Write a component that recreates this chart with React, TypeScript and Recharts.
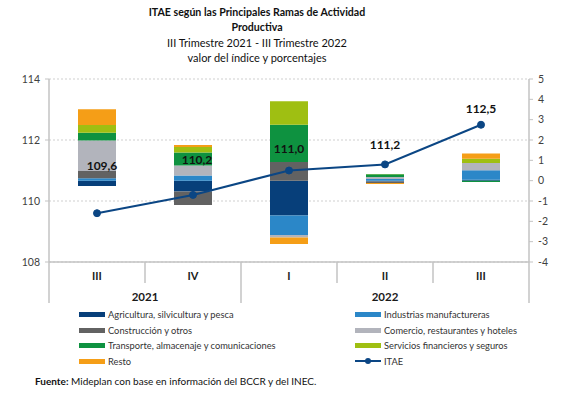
import React from "react";
import {
  Bar,
  CartesianGrid,
  ComposedChart,
  Line,
  XAxis,
  YAxis,
} from "recharts";

const quarters = ["III", "IV", "I", "II", "III"];
const years = [
  { label: "2021", span: 2 },
  { label: "2022", span: 3 },
];

// aportes por rama (puntos porcentuales)
const agricultura = [-0.26, -0.53, -1.71, -0.04, 0.05];
const industrias = [0.12, 0.25, -0.96, 0.08, 0.46];
const construccion = [0.36, -0.67, 0.92, -0.08, 0];
const comercio = [1.49, 0.49, -0.12, 0.1, 0.36];
const transporte = [0.39, 0.65, 1.83, 0.13, -0.06];
const servicios = [0.38, 0.27, 1.15, 0.02, 0.21];
const resto = [0.77, 0.1, -0.32, -0.05, 0.25];

// valor del índice
const itae = [109.6, 110.2, 111.0, 111.2, 112.5];
const itaeLabelOffsets = [
  [5, -47],
  [4, -35],
  [0, -22],
  [0, -19],
  [0, -16],
];

const leftTicks = [108, 110, 112, 114];
const rightTicks = [-4, -3, -2, -1, 0, 1, 2, 3, 4, 5];

const series = [
  { key: "agricultura", name: "Agricultura, silvicultura y pesca", color: "#073f7a" },
  { key: "industrias", name: "Industrias manufactureras", color: "#2b87c8" },
  { key: "construccion", name: "Construcción y otros", color: "#626262" },
  { key: "comercio", name: "Comercio, restaurantes y hoteles", color: "#b2b4bc" },
  { key: "transporte", name: "Transporte, almacenaje y comunicaciones", color: "#0e9240" },
  { key: "servicios", name: "Servicios financieros y seguros", color: "#9fbf12" },
  { key: "resto", name: "Resto", color: "#f59e17" },
];
const lineColor = "#0b4684";

const data = quarters.map((q, i) => ({
  q,
  agricultura: agricultura[i],
  industrias: industrias[i],
  construccion: construccion[i],
  comercio: comercio[i],
  transporte: transporte[i],
  servicios: servicios[i],
  resto: resto[i],
  itae: itae[i],
}));

const FONT = "Lato, 'Open Sans', sans-serif";
const AXIS = "#c3c3c3";
const W = 586;
const H = 396;
const PLOT_LEFT = 49;
const PLOT_RIGHT = 529;
const PLOT_TOP = 79;
const PLOT_BOTTOM = 262;
const BAND = (PLOT_RIGHT - PLOT_LEFT) / quarters.length;

const yearStarts: Record<number, { label: string; span: number }> = {};
let acc = 0;
years.forEach((y) => {
  yearStarts[acc] = y;
  acc += y.span;
});

const QuarterTick = (props: any) => {
  const { x, payload } = props;
  const index = payload?.index ?? props.index ?? 0;
  const left = x - BAND / 2;
  const year = yearStarts[index];
  const isYearEdge = year !== undefined;
  const last = index === quarters.length - 1;
  return (
    <g>
      <line
        x1={left}
        x2={left}
        y1={PLOT_BOTTOM}
        y2={isYearEdge ? PLOT_BOTTOM + 41 : PLOT_BOTTOM + 21}
        stroke={AXIS}
        strokeWidth={1.5}
      />
      {last && (
        <line
          x1={left + BAND}
          x2={left + BAND}
          y1={PLOT_BOTTOM}
          y2={PLOT_BOTTOM + 41}
          stroke={AXIS}
          strokeWidth={1.5}
        />
      )}
      <text
        x={x}
        y={PLOT_BOTTOM + 18}
        textAnchor="middle"
        fontFamily={FONT}
        fontSize={11}
        fontWeight="bold"
        fill="#1a1a1a"
      >
        {payload.value}
      </text>
      {year && (
        <text
          x={left + (BAND * year.span) / 2}
          y={PLOT_BOTTOM + 39}
          textAnchor="middle"
          fontFamily={FONT}
          fontSize={11.5}
          fontWeight="bold"
          fill="#1a1a1a"
        >
          {year.label}
        </text>
      )}
    </g>
  );
};

const ItaeLabel = (props: any) => {
  const { x, y, value, index } = props;
  const [dx, dy] = itaeLabelOffsets[index] ?? [0, -16];
  return (
    <text
      x={x + dx}
      y={y + dy}
      dy={4}
      textAnchor="middle"
      fontFamily={FONT}
      fontSize={12}
      fontWeight="bold"
      fill="#111"
    >
      {Number(value).toFixed(1).replace(".", ",")}
    </text>
  );
};

const legendLeft = ["agricultura", "construccion", "transporte", "resto"];
const legendRight = ["industrias", "comercio", "servicios", "itae"];
const legendRows = [314, 330, 345.5, 361];

const LegendItem = ({ k, x, y }: { k: string; x: number; y: number }) => {
  const s = series.find((d) => d.key === k);
  const label = s ? s.name : "ITAE";
  return (
    <div
      style={{
        position: "absolute",
        left: x,
        top: y - 8,
        height: 16,
        display: "flex",
        alignItems: "center",
        fontFamily: FONT,
        fontSize: 9.3,
        color: "#333",
        whiteSpace: "nowrap",
      }}
    >
      {s ? (
        <div style={{ width: 26, height: 5, background: s.color, marginRight: 3 }} />
      ) : (
        <svg width={26} height={8} style={{ marginRight: 3 }}>
          <line x1={0} x2={26} y1={4} y2={4} stroke={lineColor} strokeWidth={2} />
          <circle cx={13} cy={4} r={3} fill={lineColor} />
        </svg>
      )}
      {label}
    </div>
  );
};

export default function App() {
  return (
    <div
      style={{
        position: "absolute",
        left: 0,
        top: 0,
        width: W,
        height: H,
        background: "#fff",
        overflow: "hidden",
      }}
    >
      <div
        style={{
          position: "absolute",
          left: 0,
          top: 5,
          width: 514,
          textAlign: "center",
          fontFamily: FONT,
          color: "#111",
          lineHeight: "15px",
        }}
      >
        <div style={{ fontSize: 10.6, fontWeight: "bold" }}>
          ITAE según las Principales Ramas de Actividad
        </div>
        <div style={{ fontSize: 10.6, fontWeight: "bold" }}>Productiva</div>
        <div style={{ fontSize: 11 }}>III Trimestre 2021 - III Trimestre 2022</div>
        <div style={{ fontSize: 11 }}>valor del índice y porcentajes</div>
      </div>

      <div style={{ position: "absolute", left: 0, top: 0 }}>
        <ComposedChart
          width={W}
          height={H}
          data={data}
          stackOffset="sign"
          margin={{ top: PLOT_TOP, right: 0, bottom: 84, left: 0 }}
        >
          <CartesianGrid
            yAxisId="left"
            vertical={false}
            stroke="#cfcfcf"
            strokeDasharray="2 2"
          />
          <XAxis
            dataKey="q"
            height={50}
            interval={0}
            axisLine={{ stroke: AXIS, strokeWidth: 1.5 }}
            tickLine={false}
            tickSize={0}
            tick={<QuarterTick />}
          />
          <YAxis
            yAxisId="left"
            orientation="left"
            width={PLOT_LEFT}
            domain={[108, 114]}
            ticks={leftTicks}
            interval={0}
            axisLine={{ stroke: AXIS, strokeWidth: 1.5 }}
            tickLine={{ stroke: AXIS }}
            tickSize={4}
            tickMargin={5}
            tick={{ fontFamily: FONT, fontSize: 10.5, fill: "#404040" }}
          />
          <YAxis
            yAxisId="right"
            orientation="right"
            width={W - PLOT_RIGHT}
            domain={[-4, 5]}
            ticks={rightTicks}
            interval={0}
            axisLine={{ stroke: AXIS, strokeWidth: 1.5 }}
            tickLine={{ stroke: AXIS }}
            tickSize={4}
            tickMargin={5}
            tick={{ fontFamily: FONT, fontSize: 10.5, fill: "#404040" }}
          />
          {series.map((s) => (
            <Bar
              key={s.key}
              dataKey={s.key}
              name={s.name}
              yAxisId="right"
              stackId="ramas"
              fill={s.color}
              barSize={38}
              isAnimationActive={false}
            />
          ))}
          <Line
            dataKey="itae"
            name="ITAE"
            yAxisId="left"
            stroke={lineColor}
            strokeWidth={2}
            dot={{ r: 3.5, fill: lineColor, stroke: lineColor, strokeWidth: 1 }}
            activeDot={false}
            label={<ItaeLabel />}
            isAnimationActive={false}
          />
        </ComposedChart>
      </div>

      {legendLeft.map((k, i) => (
        <LegendItem key={k} k={k} x={79} y={legendRows[i]} />
      ))}
      {legendRight.map((k, i) => (
        <LegendItem key={k} k={k} x={355} y={legendRows[i]} />
      ))}

      <div
        style={{
          position: "absolute",
          left: 35,
          top: 375,
          fontFamily: FONT,
          fontSize: 10,
          color: "#111",
          whiteSpace: "nowrap",
        }}
      >
        <b>Fuente:</b> Mideplan con base en información del BCCR y del INEC.
      </div>
    </div>
  );
}
